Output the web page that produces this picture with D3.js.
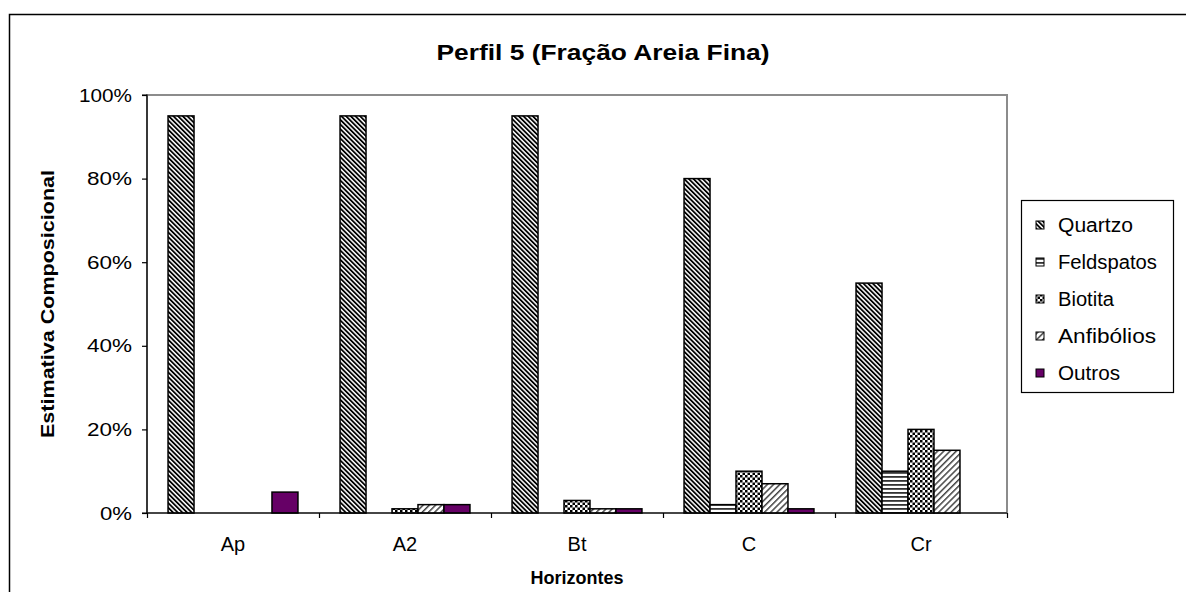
<!DOCTYPE html>
<html>
<head>
<meta charset="utf-8">
<script src="https://cdn.jsdelivr.net/npm/d3@7"></script>
<style>
  html, body { margin: 0; padding: 0; background: #fff; }
  svg { display: block; }
  text { font-family: "Liberation Sans", Arial, sans-serif; fill: #000; }
</style>
</head>
<body>
<svg id="chart" width="1186" height="592"></svg>
<script>
// Horizons of soil profile 5 and mineral estimates (%) of the fine sand fraction
const categories = ["Ap", "A2", "Bt", "C", "Cr"];
const seriesNames = ["Quartzo", "Feldspatos", "Biotita", "Anfibólios", "Outros"];
const quartzo    = [95, 95, 95, 80, 55];
const feldspatos = [0, 0, 0, 2, 10];
const biotita    = [0, 1, 3, 10, 20];
const anfibolios = [0, 2, 1, 7, 15];
const outros     = [5, 2, 1, 1, 0];
const yTicks = [0, 20, 40, 60, 80, 100];

const seriesValues = [quartzo, feldspatos, biotita, anfibolios, outros];

// Rendered text widths (the chart's text is set slightly wide)
const legendTextWidth = { "Quartzo": 75, "Feldspatos": 99, "Biotita": 56, "Anfibólios": 98, "Outros": 62 };
const tickTextWidth = d => (d === 100 ? 53 : d === 0 ? 32 : 45);

const svg = d3.select("#chart");
const defs = svg.append("defs");

// Fill patterns, one per mineral
function stripePattern(id, angle, period, width, color) {
  const p = defs.append("pattern")
    .attr("id", id)
    .attr("patternUnits", "userSpaceOnUse")
    .attr("width", period).attr("height", period)
    .attr("patternTransform", `rotate(${angle})`);
  p.append("rect").attr("width", period).attr("height", period).attr("fill", "#fff");
  p.append("rect").attr("x", 0).attr("y", 0).attr("width", width).attr("height", period).attr("fill", color);
}
stripePattern("pat-quartzo", -45, 3.3, 1.8, "#000");
stripePattern("pat-anfibolios", 45, 4.4, 1.5, "#444");

const hp = defs.append("pattern")
  .attr("id", "pat-feldspatos")
  .attr("patternUnits", "userSpaceOnUse")
  .attr("width", 8).attr("height", 4);
hp.append("rect").attr("width", 8).attr("height", 4).attr("fill", "#fff");
hp.append("rect").attr("width", 8).attr("height", 1.8).attr("fill", "#333");

const cp = defs.append("pattern")
  .attr("id", "pat-biotita")
  .attr("patternUnits", "userSpaceOnUse")
  .attr("width", 5).attr("height", 5);
cp.append("rect").attr("width", 5).attr("height", 5).attr("fill", "#fff");
cp.append("rect").attr("x", 0).attr("y", 0).attr("width", 2.5).attr("height", 2.5).attr("fill", "#000");
cp.append("rect").attr("x", 2.5).attr("y", 2.5).attr("width", 2.5).attr("height", 2.5).attr("fill", "#000");

const fills = {
  "Quartzo": "url(#pat-quartzo)",
  "Feldspatos": "url(#pat-feldspatos)",
  "Biotita": "url(#pat-biotita)",
  "Anfibólios": "url(#pat-anfibolios)",
  "Outros": "#660066"
};

// Outer chart frame
svg.append("rect")
  .attr("x", 9.5).attr("y", 14.5)
  .attr("width", 1300).attr("height", 700)
  .attr("fill", "#fff").attr("stroke", "#000").attr("stroke-width", 1.5);

// Plot area
const plot = { left: 147, right: 1007, top: 95, bottom: 513 };

const x0 = d3.scaleBand().domain(categories).range([plot.left, plot.right]).padding(0);
const x1 = d3.scaleBand().domain(seriesNames).range([0, x0.bandwidth()])
  .paddingInner(0).paddingOuter(0.81);
const y = d3.scaleLinear().domain([0, 100]).range([plot.bottom, plot.top]);

// Plot area frame (grey)
svg.append("rect")
  .attr("x", plot.left).attr("y", plot.top)
  .attr("width", plot.right - plot.left).attr("height", plot.bottom - plot.top)
  .attr("fill", "#fff").attr("stroke", "#8c8c8c").attr("stroke-width", 2);

// Bars
const rows = [];
categories.forEach((c, i) => {
  seriesNames.forEach((s, j) => {
    rows.push({ cat: c, series: s, value: seriesValues[j][i] });
  });
});

svg.append("g").selectAll("rect")
  .data(rows.filter(d => d.value > 0))
  .join("rect")
  .attr("x", d => x0(d.cat) + x1(d.series))
  .attr("y", d => y(d.value))
  .attr("width", x1.bandwidth())
  .attr("height", d => y(0) - y(d.value))
  .attr("fill", d => fills[d.series])
  .attr("stroke", "#000")
  .attr("stroke-width", 1.5);

// Y axis
const yAxis = d3.axisLeft(y)
  .tickValues(yTicks)
  .tickFormat(d => d + "%")
  .tickSize(5)
  .tickPadding(10);
const gy = svg.append("g").attr("transform", `translate(${plot.left},0)`).call(yAxis);
gy.select(".domain").attr("stroke", "#000").attr("stroke-width", 1.2).attr("d", `M-5,${plot.top}H0V${plot.bottom}`);
gy.selectAll(".tick line").attr("stroke", "#000").attr("stroke-width", 1.2);
gy.selectAll(".tick text")
  .style("font-family", "'Liberation Sans', Arial, sans-serif")
  .style("font-size", "19px").attr("fill", "#000")
  .attr("textLength", tickTextWidth)
  .attr("lengthAdjust", "spacingAndGlyphs");

// X axis: category labels centred, ticks at category boundaries
const xAxis = d3.axisBottom(x0).tickSize(0).tickPadding(24);
const gx = svg.append("g").attr("transform", `translate(0,${plot.bottom})`).call(xAxis);
gx.select(".domain").remove();
gx.selectAll(".tick text")
  .style("font-family", "'Liberation Sans', Arial, sans-serif")
  .style("font-size", "20px").attr("fill", "#000");

const bounds = categories.map(c => x0(c)).concat([plot.right]);
const xb = d3.scaleLinear().domain([plot.left, plot.right]).range([plot.left, plot.right]);
const gxb = svg.append("g").attr("transform", `translate(0,${plot.bottom})`)
  .call(d3.axisBottom(xb).tickValues(bounds).tickFormat("").tickSize(5).tickSizeOuter(0));
gxb.select(".domain").attr("stroke", "#000").attr("stroke-width", 1.2)
  .attr("d", `M${plot.left - 5},0H${plot.right}`);
gxb.selectAll(".tick line").attr("stroke", "#000").attr("stroke-width", 1.2);

// Titles
svg.append("text")
  .attr("x", 603).attr("y", 60)
  .attr("text-anchor", "middle")
  .attr("font-size", 22).attr("font-weight", "bold")
  .attr("textLength", 333).attr("lengthAdjust", "spacingAndGlyphs")
  .text("Perfil 5 (Fração Areia Fina)");

svg.append("text")
  .attr("x", 577).attr("y", 584)
  .attr("text-anchor", "middle")
  .attr("font-size", 18).attr("font-weight", "bold")
  .text("Horizontes");

svg.append("text")
  .attr("transform", `translate(54,${(plot.top + plot.bottom) / 2}) rotate(-90)`)
  .attr("text-anchor", "middle")
  .attr("font-size", 18).attr("font-weight", "bold")
  .attr("textLength", 268).attr("lengthAdjust", "spacingAndGlyphs")
  .text("Estimativa Composicional");

// Legend
const legend = svg.append("g");
legend.append("rect")
  .attr("x", 1021.5).attr("y", 200.5)
  .attr("width", 152).attr("height", 192)
  .attr("fill", "#fff").attr("stroke", "#000").attr("stroke-width", 1.2);

const legendY = d3.scalePoint().domain(seriesNames).range([225, 373]);
const item = legend.selectAll("g.item").data(seriesNames).join("g")
  .attr("class", "item")
  .attr("transform", d => `translate(0,${legendY(d)})`);
item.append("rect")
  .attr("x", 1036).attr("y", -4)
  .attr("width", 8).attr("height", 8)
  .attr("fill", d => fills[d]).attr("stroke", "#000").attr("stroke-width", 1);
item.append("text")
  .attr("x", 1058).attr("y", 0).attr("dy", "0.36em")
  .attr("font-size", 20)
  .attr("textLength", d => legendTextWidth[d])
  .attr("lengthAdjust", "spacingAndGlyphs")
  .text(d => d);
</script>
</body>
</html>
